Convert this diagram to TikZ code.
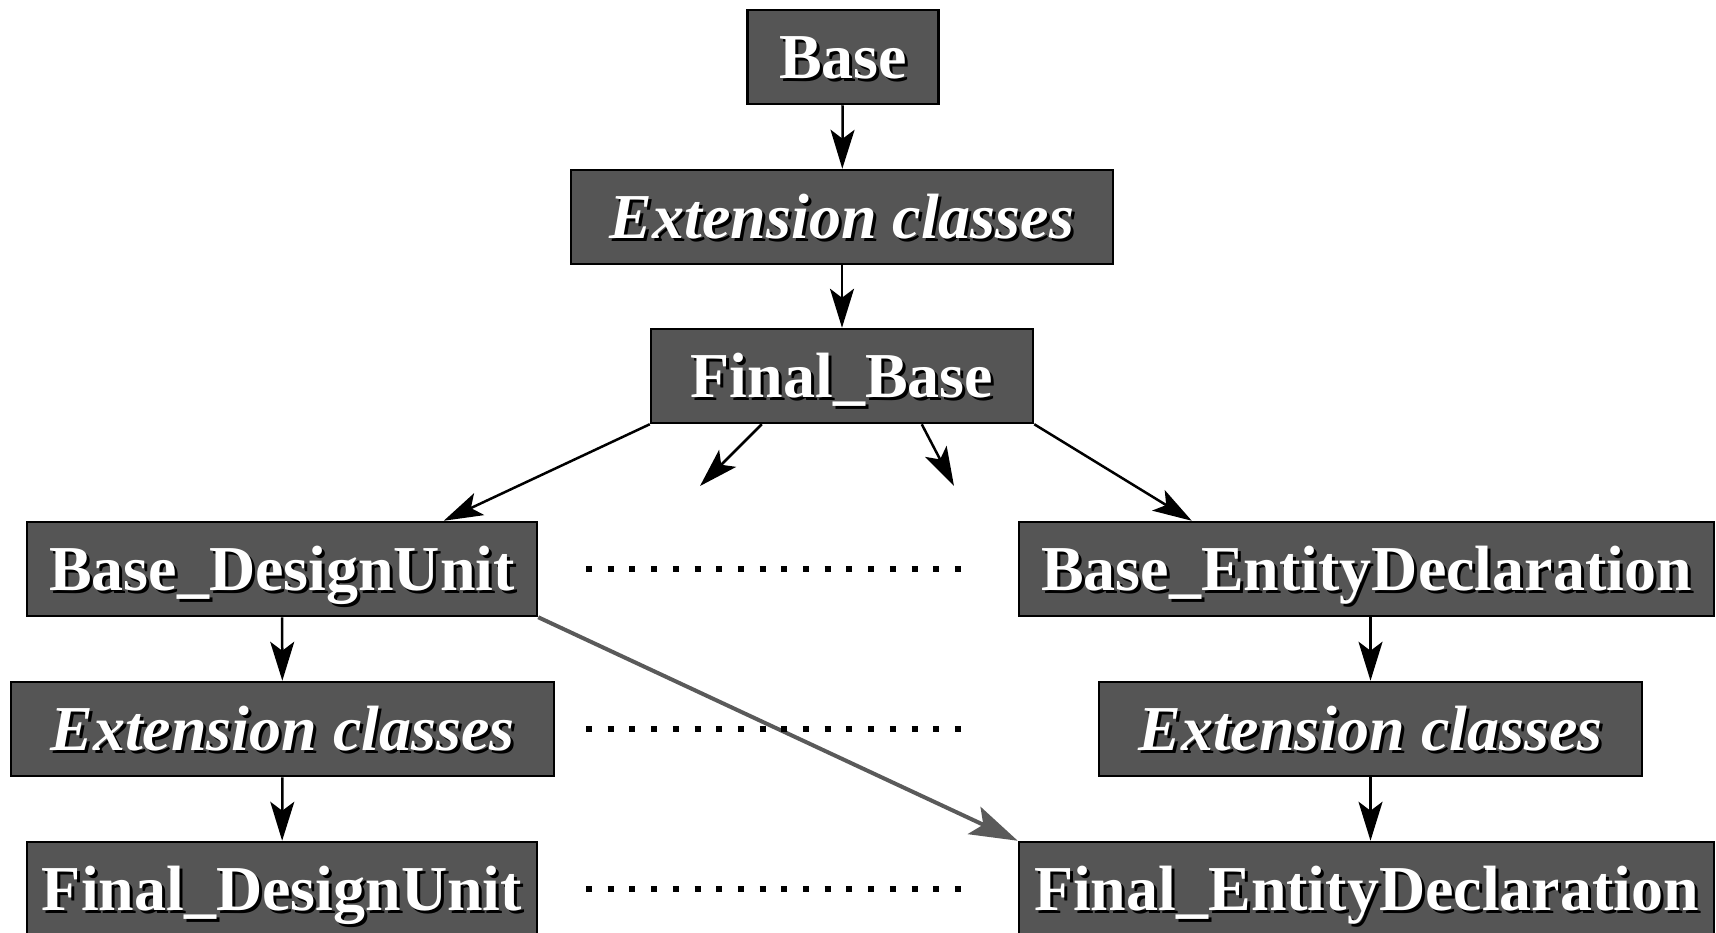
\documentclass[tikz,border=0pt]{standalone}
\usepackage{fontspec}
\setmainfont{Liberation Serif}
\usetikzlibrary{arrows.meta,calc}
\definecolor{boxgray}{HTML}{555555}
\definecolor{arrgray}{HTML}{5A5A5A}
\newcommand\shtxt[1]{\makebox[0pt][l]{\hspace{3pt}\raisebox{-3pt}{\textcolor{black}{#1}}}#1}
\begin{document}
\begin{tikzpicture}[x=1pt,y=-1pt,
  box/.style={draw=black, line width=2.5pt, fill=boxgray, text=white,
    font=\fontsize{64}{70}\selectfont\bfseries, minimum height=94pt,
    inner sep=0pt, text height=42pt, text depth=0pt},
  arr/.style={line width=2.5pt, -{Stealth[length=39pt,width=24pt,inset=9pt]}},
  garr/.style={draw=arrgray, line width=4pt, -{Stealth[length=48pt,width=30pt,inset=10pt]}},
  dotline/.style={line width=6pt, line cap=butt, dash pattern=on 6pt off 15.7pt}
]
\useasboundingbox (0,0) rectangle (1716,932);
\node[box, minimum width=191pt] (base) at (843,57) {\shtxt{Base}};
\node[box, minimum width=542pt] (ext) at (842,217) {\shtxt{\itshape Extension classes}};
\node[box, minimum width=382pt] (fb) at (842,376) {\shtxt{Final\_Base}};
\node[box, minimum width=510pt] (bdu) at (282,569) {\shtxt{Base\_DesignUnit}};
\node[box, minimum width=695pt] (bed) at (1366.5,569) {\shtxt{Base\_EntityDeclaration}};
\node[box, minimum width=543pt] (extl) at (282.5,729) {\shtxt{\itshape Extension classes}};
\node[box, minimum width=543pt] (extr) at (1370.5,729) {\shtxt{\itshape Extension classes}};
\node[box, minimum width=510pt] (fdu) at (282,889) {\shtxt{Final\_DesignUnit}};
\node[box, minimum width=695pt] (fed) at (1366.5,889) {\shtxt{Final\_EntityDeclaration}};

\draw[arr] (base) -- (ext);
\draw[arr] (ext) -- (fb);
\draw[arr] (fb.south west) -- ($(bdu.north west)+(418,0)$);
\draw[arr] ($(fb.south west)+(112,0)$) coordinate (s1) -- (700,486) coordinate (e1);
\draw[arr] ($(fb.south west)+(272,0)$) coordinate (s2) -- (954,486) coordinate (e2);
\draw[arr] (fb.south east) -- ($(bed.north west)+(174,0)$);
\draw[arr] (bdu) -- (extl);
\draw[arr] (extl) -- (fdu);
\draw[arr] (extr.south |- bed.south) -- (extr);
\draw[arr] (extr) -- (extr.south |- fed.north);
\draw[garr] (bdu.south east) -- (fed.north west);

\coordinate (d1a) at (586,569); \coordinate (d1b) at (962,569);
\coordinate (d2a) at (586,729); \coordinate (d2b) at (962,729);
\coordinate (d3a) at (586,889); \coordinate (d3b) at (962,889);
\draw[dotline] (d1a) -- (d1b);
\draw[dotline] (d2a) -- (d2b);
\draw[dotline] (d3a) -- (d3b);
\end{tikzpicture}
\end{document}
